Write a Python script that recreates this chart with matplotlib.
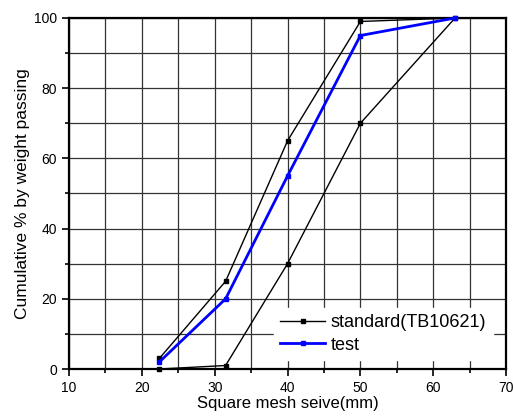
import matplotlib.pyplot as plt
from matplotlib.ticker import MultipleLocator

plt.rcParams['font.family'] = ['Liberation Sans', 'DejaVu Sans']

# sieve sizes (mm), standard envelope drawn as one closed outline
std_x = [22.4, 31.5, 40, 50, 63, 50, 40, 31.5, 22.4]
std_y = [3, 25, 65, 99, 100, 70, 30, 1, 0]

test_x = [22.4, 31.5, 40, 50, 63]
test_y = [2, 20, 55, 95, 100]

fig = plt.figure(figsize=(5.13, 4.18), dpi=100)
ax = fig.add_axes([0.1345, 0.1172, 0.852, 0.8398])

ax.plot(std_x, std_y, color="black", lw=1, marker="s", ms=2.5,
        label="standard(TB10621)", clip_on=False, zorder=3)
ax.plot(test_x, test_y, color="blue", lw=2, marker="s", ms=2.5,
        label="test", clip_on=False, zorder=4)

ax.set_xlim(10, 70)
ax.set_ylim(0, 100)
ax.xaxis.set_major_locator(MultipleLocator(10))
ax.xaxis.set_minor_locator(MultipleLocator(5))
ax.yaxis.set_major_locator(MultipleLocator(20))
ax.yaxis.set_minor_locator(MultipleLocator(10))
ax.grid(which="both", color="#333333", lw=0.9, zorder=0)
ax.set_axisbelow(True)
ax.tick_params(which="major", direction="out", length=5, width=1.2, labelsize=10)
ax.tick_params(which="minor", direction="out", length=3, width=1.2)
for s in ax.spines.values():
    s.set_linewidth(1.6)

ax.set_xlabel("Square mesh seive(mm)", fontsize=12, labelpad=1)
ax.set_ylabel("Cumulative % by weight passing", fontsize=12.5, labelpad=3)

leg = ax.legend(loc="lower right", bbox_to_anchor=(0.99, 0.0), fontsize=13,
                frameon=True, fancybox=False, handlelength=2.5,
                handletextpad=0.3, borderpad=0.35, labelspacing=0.3)
leg.get_frame().set_edgecolor("white")
leg.get_frame().set_facecolor("white")
leg.get_frame().set_alpha(1)
leg.set_zorder(5)

plt.savefig("out.png", dpi=100)
